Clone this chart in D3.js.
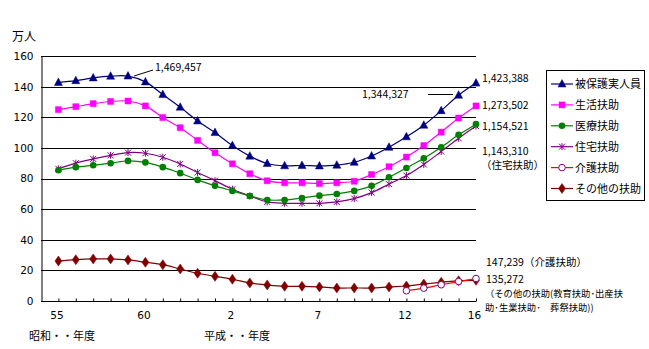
<!DOCTYPE html>
<html><head><meta charset="utf-8">
<script src="https://cdn.jsdelivr.net/npm/d3@7"></script>
<style>
html,body{margin:0;padding:0;background:#fff;}
svg text{font-family:"Noto Sans CJK JP","Noto Sans",sans-serif;fill:#000;}
</style></head>
<body><svg id="c" width="649" height="349"></svg>
<script>
// categories: 昭和55〜63年度, 平成1〜16年度
const categories = ["55","56","57","58","59","60","61","62","63","1","2","3","4","5","6","7","8","9","10","11","12","13","14","15","16"];
const tickLabels = {0:"55",5:"60",10:"2",15:"7",20:"12",24:"16"};
const yTicks = [0,20,40,60,80,100,120,140,160];
// 万人
const hihogo  = [142.7,143.9,145.7,146.8,146.9,143.1,134.8,126.6,117.6,110.0,101.5,94.6,89.8,88.3,88.5,88.2,88.7,90.6,94.7,100.4,107.2,114.8,124.3,134.4,142.3];
const seikatsu= [125.0,126.9,128.9,130.3,130.6,127.4,119.8,113.2,104.9,96.8,89.6,83.1,78.5,77.2,77.2,76.7,77.2,78.2,82.6,87.7,94.0,101.5,110.3,119.5,127.4];
const iryo    = [85.4,87.4,88.7,90.0,91.5,90.5,87.4,83.5,79.1,75.2,71.9,68.6,66.0,66.0,67.3,68.8,69.9,71.9,75.2,80.8,86.9,93.2,100.4,108.5,115.5];
const jutaku  = [86.3,90.0,92.8,95.1,96.9,96.5,93.9,89.5,83.9,78.6,73.0,68.6,64.7,63.8,63.8,63.8,64.7,66.9,70.8,76.3,81.9,89.2,97.6,106.3,114.3];
const kaigo   = [null,null,null,null,null,null,null,null,null,null,null,null,null,null,null,null,null,null,null,null,6.7,8.4,10.6,12.7,14.7];
const sonota  = [26.1,27.0,27.5,27.5,26.8,25.3,23.7,20.9,18.1,16.1,14.2,11.8,10.5,9.6,9.6,9.2,8.5,8.5,8.5,9.2,9.8,11.1,12.2,13.3,13.5];

const series = [
  {name:"被保護実人員", values:hihogo, color:"#000080", marker:"tri", mfill:"#000080", mstroke:"#000080"},
  {name:"生活扶助", values:seikatsu, color:"#FF00FF", marker:"sq", mfill:"#FF00FF", mstroke:"#FF00FF"},
  {name:"医療扶助", values:iryo, color:"#008000", marker:"circ", mfill:"#008000", mstroke:"#008000"},
  {name:"住宅扶助", values:jutaku, color:"#800080", marker:"star", mfill:"none", mstroke:"#800080"},
  {name:"介護扶助", values:kaigo, color:"#FF0000", marker:"ocirc", mfill:"#fff", mstroke:"#800080"},
  {name:"その他の扶助", values:sonota, color:"#800000", marker:"dia", mfill:"#800000", mstroke:"#800000"}
];

const svg = d3.select("#c");
const L=41, R=476, T=56, B=301;
const x = d3.scaleLinear().domain([-1, categories.length-1]).range([L,R]);
const y = d3.scaleLinear().domain([0,160]).range([B,T]);

// gridlines
svg.append("g").selectAll("line").data(yTicks.filter(d=>d>0)).join("line")
  .attr("x1",L).attr("x2",R).attr("y1",d=>Math.round(y(d))+0.5).attr("y2",d=>Math.round(y(d))+0.5)
  .attr("stroke","#000").attr("stroke-width",1);

// y axis
const ya = svg.append("g").attr("transform",`translate(${L+0.5},0)`)
  .call(d3.axisLeft(y).tickValues(yTicks).tickSize(0).tickPadding(8));
ya.select(".domain").attr("stroke","#000");
ya.selectAll("text").style("font-family","'DejaVu Sans',sans-serif").attr("font-size",10.5);

// x axis
const xa = svg.append("g").attr("transform",`translate(0,${B+0.5})`)
  .call(d3.axisBottom(x).tickValues(d3.range(0,categories.length)).tickSize(-3).tickSizeOuter(0).tickPadding(10)
    .tickFormat(i=> tickLabels[i]!==undefined ? categories[i] : ""));
xa.select(".domain").attr("stroke","#000").attr("d",`M${L},0H${R}`);
xa.selectAll("line").attr("stroke","#000");
xa.selectAll("text").style("font-family","'DejaVu Sans',sans-serif").attr("font-size",10.5).attr("dx",-2);

// lines
const line = d3.line().defined(d=>d!=null).x((d,i)=>x(i)).y(d=>y(d)).curve(d3.curveCatmullRom.alpha(0.5));
function markerPath(type){
  switch(type){
    case "tri": return "M0,-4.5L4,3L-4,3Z";
    case "sq": return "M-3,-3H3V3H-3Z";
    case "dia": return "M0,-5L3.5,0L0,5L-3.5,0Z";
    case "star": return "M-3,-3L3,3M-3,3L3,-3M0,-3.5V3.5";
    default: return null;
  }
}
function drawMarker(g, type, cx, cy, s){
  if(type==="circ"){ g.append("circle").attr("cx",cx).attr("cy",cy).attr("r",3.3).attr("fill",s.mfill); return; }
  if(type==="ocirc"){ g.append("circle").attr("cx",cx).attr("cy",cy).attr("r",3.3).attr("fill","#fff").attr("stroke",s.mstroke).attr("stroke-width",1); return; }
  const p = g.append("path").attr("d",markerPath(type)).attr("transform",`translate(${cx},${cy})`);
  if(type==="star") p.attr("fill","none").attr("stroke",s.mstroke).attr("stroke-width",1);
  else p.attr("fill",s.mfill).attr("stroke",s.mstroke).attr("stroke-width",0.5);
}
const plot = svg.append("g");
series.slice().reverse().forEach(s=>{
  plot.append("path").datum(s.values).attr("d",line).attr("fill","none").attr("stroke",s.color).attr("stroke-width",1.2);
});
series.slice().reverse().forEach(s=>{
  const g = plot.append("g");
  s.values.forEach((v,i)=>{ if(v!=null) drawMarker(g, s.marker, x(i), y(v), s); });
});

// unit label
svg.append("text").attr("x",12).attr("y",41).attr("font-size",12).text("万人");

// bottom era labels
svg.append("text").attr("x",29).attr("y",340).attr("font-size",11).text("昭和・・年度");
svg.append("text").attr("x",204).attr("y",340).attr("font-size",11).text("平成・・年度");

// annotations
const ann = svg.append("g").attr("font-size",10.5).style("font-family","'DejaVu Sans',sans-serif");
ann.append("line").attr("x1",x(4)+6).attr("y1",y(hihogo[4])).attr("x2",153).attr("y2",70).attr("stroke","#000");
ann.append("text").attr("x",155).attr("y",71).text("1,469,457");
ann.append("text").attr("x",362).attr("y",98).text("1,344,327");
ann.append("line").attr("x1",428).attr("x2",453).attr("y1",94.5).attr("y2",94.5).attr("stroke","#000");
ann.append("text").attr("x",482).attr("y",82).text("1,423,388");
ann.append("text").attr("x",482).attr("y",109).text("1,273,502");
ann.append("text").attr("x",482).attr("y",130).text("1,154,521");
ann.append("text").attr("x",482).attr("y",155).text("1,143,310");
ann.append("text").attr("x",486).attr("y",283).text("135,272");
const annJ = svg.append("g").attr("font-size",10.5);
annJ.append("text").attr("x",481).attr("y",169).text("（住宅扶助）");
annJ.append("text").attr("x",486).attr("y",266).text("147,239（介護扶助）");
annJ.append("text").attr("x",485).attr("y",297).attr("font-size",9.3).text("（その他の扶助(教育扶助･出産扶");
annJ.append("text").attr("x",485).attr("y",311).attr("font-size",9.3).text("助･生業扶助･　葬祭扶助))");

// legend
const lg = svg.append("g");
lg.append("rect").attr("x",546.5).attr("y",70.5).attr("width",98).attr("height",130).attr("fill","#fff").attr("stroke","#000");
series.forEach((s,k)=>{
  const cy = 84 + k*20.9;
  lg.append("line").attr("x1",551).attr("x2",573).attr("y1",cy).attr("y2",cy).attr("stroke",s.color).attr("stroke-width",1.2);
  drawMarker(lg, s.marker, 562, cy, s);
  lg.append("text").attr("x",575).attr("y",cy+4).attr("font-size",11).text(s.name);
});
</script></body></html>
